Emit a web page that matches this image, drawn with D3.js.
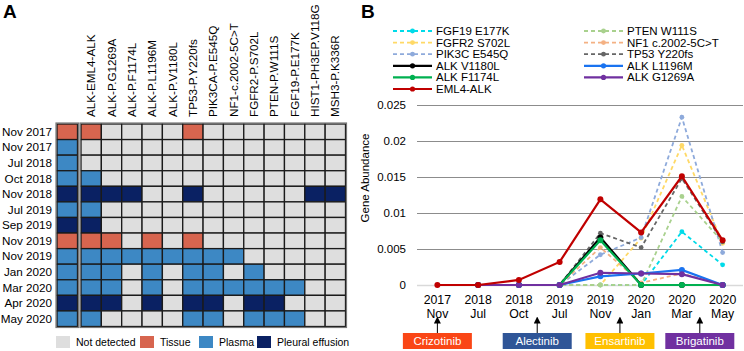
<!DOCTYPE html>
<html>
<head>
<meta charset="utf-8">
<script src="https://cdn.jsdelivr.net/npm/d3@7"></script>
<style>
  body { margin: 0; background: #fff; }
  svg { font-family: Arial, "Liberation Sans", sans-serif; display: block; }
</style>
</head>
<body>
<svg id="chart" width="744" height="351"></svg>
<script>
// ---- panel A data ----
const genes = ['ALK-EML4-ALK', 'ALK-P.G1269A', 'ALK-P.F1174L', 'ALK-P.L1196M', 'ALK-P.V1180L',
    'TP53-P.Y220fs', 'PIK3CA-P.E545Q', 'NF1-c.2002-5C>T', 'FGFR2-P.S702L', 'PTEN-P.W111S',
    'FGF19-P.E177K', 'HIST1-PH3EP.V118G', 'MSH3-P.K336R'];
const sampleDates = ['Nov 2017', 'Nov 2017', 'Jul 2018', 'Oct 2018', 'Nov 2018', 'Jul 2019', 'Sep 2019',
    'Nov 2019', 'Nov 2019', 'Jan 2020', 'Mar 2020', 'Apr 2020', 'May 2020'];
const sampleTypes = ['Tissue', 'Plasma', 'Plasma', 'Plasma', 'Pleural effusion', 'Plasma', 'Pleural effusion',
    'Tissue', 'Plasma', 'Plasma', 'Plasma', 'Pleural effusion', 'Plasma'];
// 1 = mutation detected in that sample
const detected = [
    [1,0,0,0,0,1,0,0,0,0,0,0,0],
    [0,0,0,0,0,0,0,0,0,0,0,0,0],
    [0,0,0,0,0,0,0,0,0,0,0,0,0],
    [1,0,0,0,0,0,0,0,0,0,0,0,0],
    [1,1,1,0,0,1,0,0,0,0,0,1,1],
    [1,0,0,0,0,0,0,0,0,0,0,0,0],
    [1,0,0,0,0,0,0,0,0,0,0,0,0],
    [1,1,0,1,0,1,0,0,0,0,0,0,0],
    [1,1,1,1,1,1,1,1,0,0,0,0,0],
    [1,1,0,1,0,1,1,0,1,0,0,0,0],
    [1,1,0,1,0,1,1,1,1,1,1,0,0],
    [1,1,0,1,0,1,1,0,1,1,0,0,0],
    [1,0,0,0,0,1,1,0,1,1,1,0,0]
];
const legendTypes = ['Not detected', 'Tissue', 'Plasma', 'Pleural effusion'];

// ---- panel B data ----
const timeYears = ['2017', '2018', '2018', '2019', '2019', '2020', '2020', '2020'];
const timeMonths = ['Nov', 'Jul', 'Oct', 'Jul', 'Nov', 'Jan', 'Mar', 'May'];
const seriesNames = ['FGF19 E177K', 'FGFR2 S702L', 'PIK3C E545Q', 'PTEN W111S', 'NF1 c.2002-5C>T',
    'TP53 Y220fs', 'ALK V1180L', 'ALK F1174L', 'ALK L1196M', 'ALK G1269A', 'EML4-ALK'];
const seriesValues = [
    [null, 0, 0, 0, 0, 0, 0.0074, 0.0028],
    [null, 0, 0, 0, 0, 0.0065, 0.0194, 0.0058],
    [null, 0, 0, 0, 0.0042, 0.0066, 0.0233, 0.0045],
    [null, 0, 0, 0, 0, 0, 0.0123, 0.0060],
    [null, 0, 0, 0, 0.0052, 0.0003, 0.0016, 0],
    [null, 0, 0, 0, 0.0072, 0.0052, 0.0148, 0.0060],
    [null, 0, 0, 0, 0.0066, 0, 0, 0],
    [null, 0, 0, 0, 0.0062, 0, 0, 0],
    [null, 0, 0, 0, 0.0012, 0.0016, 0.0021, 0],
    [null, 0, 0, 0, 0.0017, 0.0016, 0.0015, 0],
    [0, 0, 0.0007, 0.0032, 0.0119, 0.0073, 0.0151, 0.0062]
];
const legendLeft = ['FGF19 E177K', 'FGFR2 S702L', 'PIK3C E545Q', 'ALK V1180L', 'ALK F1174L', 'EML4-ALK'];
const legendRight = ['PTEN W111S', 'NF1 c.2002-5C>T', 'TP53 Y220fs', 'ALK L1196M', 'ALK G1269A'];
const yTicks = [0, 0.005, 0.01, 0.015, 0.02, 0.025];
const treatments = ['Crizotinib', 'Alectinib', 'Ensartinib', 'Brigatinib'];
const treatmentStart = [0, 2.45, 4.48, 6.44]; // position along the time axis (index units)

// ---- styles ----
const typeColour = {
    'Not detected': '#dedede',
    'Tissue': '#d7654f',
    'Plasma': '#3d88c4',
    'Pleural effusion': '#0a2163'
};
const seriesStyle = {
    'FGF19 E177K': { colour: '#00dbe9', dashed: true },
    'FGFR2 S702L': { colour: '#ffd966', dashed: true },
    'PIK3C E545Q': { colour: '#8eaadb', dashed: true },
    'PTEN W111S': { colour: '#a9d18e', dashed: true },
    'NF1 c.2002-5C>T': { colour: '#f4b183', dashed: true },
    'TP53 Y220fs': { colour: '#666666', dashed: true },
    'ALK V1180L': { colour: '#000000', dashed: false },
    'ALK F1174L': { colour: '#00b050', dashed: false },
    'ALK L1196M': { colour: '#1a73f0', dashed: false },
    'ALK G1269A': { colour: '#7030a0', dashed: false },
    'EML4-ALK': { colour: '#c00000', dashed: false }
};
const treatmentColour = ['#fa4616', '#2f5597', '#ffc000', '#7030a0'];

const svg = d3.select('#chart');

// panel letters
svg.append('text').attr('x', 3).attr('y', 18).attr('font-size', 19).attr('font-weight', 'bold').text('A');
svg.append('text').attr('x', 361).attr('y', 18).attr('font-size', 19).attr('font-weight', 'bold').text('B');

// ================= panel A: heatmap =================
const rowIdx = d3.range(sampleDates.length);
const xCell = d3.scaleBand().domain(genes).range([81, 345.5]);
const yCell = d3.scaleBand().domain(rowIdx).range([124, 326.5]);
const typeX = [57, 77.5];

const heat = svg.append('g');

// sample type column
heat.selectAll('rect.type')
    .data(rowIdx)
    .join('rect')
    .attr('class', 'type')
    .attr('x', typeX[0])
    .attr('y', i => yCell(i))
    .attr('width', typeX[1] - typeX[0])
    .attr('height', yCell.bandwidth())
    .attr('fill', i => typeColour[sampleTypes[i]])
    .attr('stroke', '#1a1a1a')
    .attr('stroke-width', 1.3);
heat.append('rect')
    .attr('x', typeX[0] - 1).attr('y', yCell.range()[0] - 1)
    .attr('width', typeX[1] - typeX[0] + 2).attr('height', yCell.range()[1] - yCell.range()[0] + 2)
    .attr('fill', 'none').attr('stroke', '#777').attr('stroke-width', 1.2);

// mutation cells
const cells = [];
rowIdx.forEach(r => genes.forEach((g, c) => cells.push({ r, g, v: detected[r][c] })));

heat.selectAll('rect.cell')
    .data(cells)
    .join('rect')
    .attr('class', 'cell')
    .attr('x', d => xCell(d.g))
    .attr('y', d => yCell(d.r))
    .attr('width', xCell.bandwidth())
    .attr('height', yCell.bandwidth())
    .attr('fill', d => d.v ? typeColour[sampleTypes[d.r]] : typeColour['Not detected'])
    .attr('stroke', '#1a1a1a')
    .attr('stroke-width', 1.3);
heat.append('rect')
    .attr('x', xCell.range()[0] - 1).attr('y', yCell.range()[0] - 1)
    .attr('width', xCell.range()[1] - xCell.range()[0] + 2).attr('height', yCell.range()[1] - yCell.range()[0] + 2)
    .attr('fill', 'none').attr('stroke', '#777').attr('stroke-width', 1.2);

// row labels
heat.selectAll('text.row')
    .data(rowIdx)
    .join('text')
    .attr('class', 'row')
    .attr('x', 52)
    .attr('y', i => yCell(i) + yCell.bandwidth() / 2 + 4)
    .attr('text-anchor', 'end')
    .attr('font-size', 11.7)
    .text(i => sampleDates[i]);

// column labels
heat.selectAll('text.col')
    .data(genes)
    .join('text')
    .attr('class', 'col')
    .attr('transform', g => `translate(${xCell(g) + xCell.bandwidth() / 2 + 4},117) rotate(-90)`)
    .attr('font-size', 11.7)
    .text(g => g);

// legend
const legA = heat.append('g');
const legAX = [56, 140, 199, 257];
legendTypes.forEach((t, i) => {
    legA.append('rect')
        .attr('x', legAX[i]).attr('y', 336)
        .attr('width', 14).attr('height', 12)
        .attr('fill', typeColour[t]);
    legA.append('text')
        .attr('x', legAX[i] + 20).attr('y', 346)
        .attr('font-size', 10.5)
        .text(t);
});

// ================= panel B: line chart =================
const timeKeys = timeYears.map((y, i) => `${y} ${timeMonths[i]}`);
const x = d3.scalePoint().domain(timeKeys).range([417, 743]).padding(0.5);
const y = d3.scaleLinear().domain([0, 0.025]).range([285, 105]);
const xIdx = d3.scaleLinear().domain([0, timeKeys.length - 1]).range([x(timeKeys[0]), x(timeKeys[timeKeys.length - 1])]);

const chart = svg.append('g');

const yAxisG = chart.append('g')
    .attr('transform', 'translate(417,0)')
    .call(d3.axisLeft(y).tickValues(yTicks).tickFormat(d => String(d))
        .tickSize(-(743 - 417)).tickPadding(11));
yAxisG.select('.domain').remove();
yAxisG.selectAll('.tick line')
    .attr('stroke', d => d === 0 ? '#d9d9d9' : '#8c8c8c')
    .attr('stroke-width', d => d === 0 ? 1.5 : 1.2);
yAxisG.selectAll('.tick text')
    .attr('font-size', 11.5)
    .attr('font-family', 'Arial, "Liberation Sans", sans-serif')
    .attr('fill', '#000');

chart.append('text')
    .attr('transform', 'translate(369,178) rotate(-90)')
    .attr('text-anchor', 'middle')
    .attr('font-size', 11.5)
    .text('Gene Abundance');

// x labels (two lines)
const xl = chart.selectAll('text.xlab')
    .data(timeKeys)
    .join('text')
    .attr('class', 'xlab')
    .attr('text-anchor', 'middle')
    .attr('font-size', 12.3);
xl.append('tspan').attr('x', k => x(k)).attr('y', 304).text((k, i) => timeYears[i]);
xl.append('tspan').attr('x', k => x(k)).attr('y', 318).text((k, i) => timeMonths[i]);

// series
const line = d3.line()
    .defined(d => d.v !== null)
    .x(d => x(d.k))
    .y(d => y(d.v));

const series = seriesNames.map((name, i) => ({
    name,
    points: seriesValues[i].map((v, j) => ({ k: timeKeys[j], v }))
}));

const sG = chart.selectAll('g.series')
    .data(series)
    .join('g')
    .attr('class', 'series');

sG.append('path')
    .attr('d', d => line(d.points))
    .attr('fill', 'none')
    .attr('stroke', d => seriesStyle[d.name].colour)
    .attr('stroke-width', d => seriesStyle[d.name].dashed ? 1.8 : 2.2)
    .attr('stroke-dasharray', d => seriesStyle[d.name].dashed ? '4,3' : null);

sG.selectAll('circle')
    .data(d => d.points.filter(p => p.v !== null).map(p => ({ ...p, name: d.name })))
    .join('circle')
    .attr('cx', d => x(d.k))
    .attr('cy', d => y(d.v))
    .attr('r', d => seriesStyle[d.name].dashed ? 2.4 : 3)
    .attr('fill', d => seriesStyle[d.name].colour);

// legend
const legB = chart.append('g');
[[legendLeft, 393], [legendRight, 584]].forEach(([names, lx]) => {
    names.forEach((name, i) => {
        const ly = 31 + i * 11.6;
        const st = seriesStyle[name];
        legB.append('line')
            .attr('x1', lx).attr('x2', lx + 39)
            .attr('y1', ly).attr('y2', ly)
            .attr('stroke', st.colour)
            .attr('stroke-width', st.dashed ? 1.8 : 2.2)
            .attr('stroke-dasharray', st.dashed ? '4,3' : null);
        legB.append('circle')
            .attr('cx', lx + 19.5).attr('cy', ly)
            .attr('r', st.dashed ? 2.4 : 2.6)
            .attr('fill', st.colour);
        legB.append('text')
            .attr('x', lx + 43).attr('y', ly + 4)
            .attr('font-size', 11.5)
            .text(name);
    });
});

// treatments
svg.append('defs').append('marker')
    .attr('id', 'arrow')
    .attr('viewBox', '0 0 10 10')
    .attr('refX', 5).attr('refY', 5)
    .attr('markerWidth', 7).attr('markerHeight', 7)
    .attr('orient', 'auto')
    .append('path')
    .attr('d', 'M0,0 L10,5 L0,10 Z')
    .attr('fill', '#000');

const tG = chart.selectAll('g.treat')
    .data(treatments)
    .join('g')
    .attr('class', 'treat')
    .attr('transform', (t, i) => `translate(${xIdx(treatmentStart[i])},0)`);

tG.append('line')
    .attr('x1', 0).attr('x2', 0)
    .attr('y1', 333).attr('y2', 320)
    .attr('stroke', '#000')
    .attr('stroke-width', 1)
    .attr('marker-end', 'url(#arrow)');
tG.append('rect')
    .attr('x', -34.5).attr('y', 333)
    .attr('width', 69).attr('height', 16)
    .attr('fill', (t, i) => treatmentColour[i]);
tG.append('text')
    .attr('y', 345)
    .attr('text-anchor', 'middle')
    .attr('font-size', 11.5)
    .attr('fill', '#fff')
    .text(t => t);
</script>
</body>
</html>
